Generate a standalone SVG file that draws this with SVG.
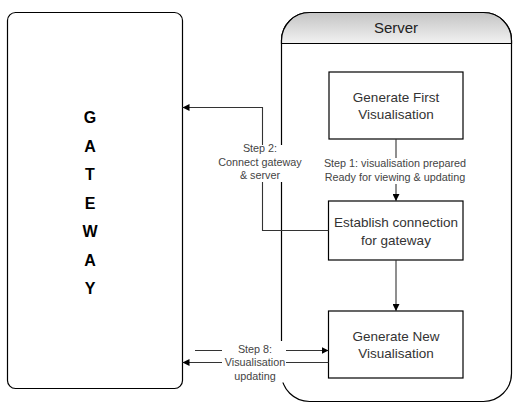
<svg xmlns="http://www.w3.org/2000/svg" width="517" height="410" viewBox="0 0 517 410">
<defs>
<linearGradient id="hdr" x1="0" y1="0" x2="0" y2="1">
<stop offset="0" stop-color="#c4c4c4"/>
<stop offset="1" stop-color="#f2f2f2"/>
</linearGradient>
<marker id="arr" viewBox="0 0 10 10" refX="10" refY="5" markerWidth="7" markerHeight="7" markerUnits="userSpaceOnUse" orient="auto">
<path d="M0,0 L10,5 L0,10 Z" fill="#000"/>
</marker>
</defs>
<style>
.box{fill:#fff;stroke:#000;stroke-width:1.2}
.btxt{font-family:"Liberation Sans",Arial,sans-serif;font-size:13.5px;fill:#333;text-anchor:middle}
.lbl{font-family:"Liberation Sans",Arial,sans-serif;font-size:10.8px;fill:#444;text-anchor:middle}
.gw{font-family:"Liberation Sans",Arial,sans-serif;font-size:16px;font-weight:bold;fill:#000;text-anchor:middle}
.ln{fill:none;stroke:#333;stroke-width:1.1}
.bg{fill:#fff;stroke:none}
</style>
<rect width="517" height="410" fill="#fff"/>
<g id="gateway">
<rect x="7.5" y="12.5" width="175" height="376" rx="8" class="box"/>
<text class="gw" x="90" y="123">G</text>
<text class="gw" x="90" y="151.5">A</text>
<text class="gw" x="90" y="180">T</text>
<text class="gw" x="90" y="208.5">E</text>
<text class="gw" x="90" y="237">W</text>
<text class="gw" x="90" y="265.5">A</text>
<text class="gw" x="90" y="294">Y</text>
</g>
<g id="server">
<rect x="281.5" y="12.5" width="230" height="389" rx="28" class="box"/>
<path d="M281.5,43.5 V40.5 A28,28 0 0 1 309.5,12.5 H483.5 A28,28 0 0 1 511.5,40.5 V43.5 Z" fill="url(#hdr)" stroke="#000" stroke-width="1.2"/>
<text x="396" y="33" font-family="'Liberation Sans',Arial,sans-serif" font-size="15px" fill="#222" text-anchor="middle">Server</text>
</g>
<g id="gen-first">
<rect x="329" y="72" width="134" height="67" class="box"/>
<text class="btxt" x="396" y="102">Generate First</text>
<text class="btxt" x="396" y="119">Visualisation</text>
</g>
<g id="establish">
<rect x="328.5" y="201" width="134.5" height="59" class="box"/>
<text class="btxt" x="396" y="227">Establish connection</text>
<text class="btxt" x="396" y="245">for gateway</text>
</g>
<g id="gen-new">
<rect x="328.5" y="311" width="134.5" height="67" class="box"/>
<text class="btxt" x="396" y="341">Generate New</text>
<text class="btxt" x="396" y="358">Visualisation</text>
</g>
<g id="connectors">
<path class="ln" d="M396,139 V201" marker-end="url(#arr)"/>
<path class="ln" d="M396,260 V311" marker-end="url(#arr)"/>
<path class="ln" d="M328.5,230.5 H262.5 V107.5 H182.5" marker-end="url(#arr)"/>
<path class="ln" d="M195,350.5 H328.5" marker-end="url(#arr)"/>
<path class="ln" d="M328.5,362.5 H182.5" marker-end="url(#arr)"/>
<rect class="bg" x="324" y="158" width="144" height="26"/>
<text class="lbl" x="395" y="167">Step 1: visualisation prepared</text>
<text class="lbl" x="395" y="181">Ready for viewing &amp; updating</text>
<rect class="bg" x="218" y="145" width="85" height="37"/>
<text class="lbl" x="260" y="152">Step 2:</text>
<text class="lbl" x="260" y="166">Connect gateway</text>
<text class="lbl" x="260" y="179">&amp; server</text>
<rect class="bg" x="222" y="341" width="64" height="41.5"/>
<text class="lbl" x="255" y="353">Step 8:</text>
<text class="lbl" x="255" y="366">Visualisation</text>
<text class="lbl" x="255" y="380">updating</text>
</g>
</svg>
